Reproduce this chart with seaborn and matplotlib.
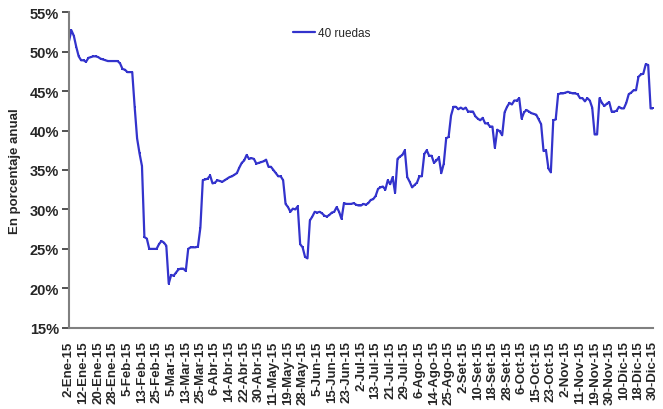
import numpy as np
import pandas as pd
import matplotlib
matplotlib.use("Agg")
import matplotlib.pyplot as plt
import seaborn as sns

# Tick labels (every 6th business day)
tick_labels = ["2-Ene-15", "12-Ene-15", "20-Ene-15", "28-Ene-15", "5-Feb-15", "13-Feb-15",
               "25-Feb-15", "5-Mar-15", "13-Mar-15", "25-Mar-15", "6-Abr-15", "14-Abr-15",
               "22-Abr-15", "30-Abr-15", "11-May-15", "19-May-15", "28-May-15", "5-Jun-15",
               "15-Jun-15", "23-Jun-15", "2-Jul-15", "13-Jul-15", "21-Jul-15", "29-Jul-15",
               "6-Ago-15", "14-Ago-15", "25-Ago-15", "2-Set-15", "10-Set-15", "18-Set-15",
               "28-Set-15", "6-Oct-15", "15-Oct-15", "23-Oct-15", "2-Nov-15", "11-Nov-15",
               "19-Nov-15", "30-Nov-15", "10-Dic-15", "18-Dic-15", "30-Dic-15"]

# Daily values, 40 ruedas (% annual)
tasa_40_ruedas = [
    51.3, 52.7, 52.0, 50.6, 49.4, 48.9, 48.9, 48.7, 49.2, 49.3,
    49.4, 49.4, 49.3, 49.1, 49.0, 48.9, 48.8, 48.8, 48.8, 48.8,
    48.8, 48.5, 47.8, 47.7, 47.4, 47.4, 47.4, 43.0, 39.0, 37.1,
    35.5, 26.5, 26.3, 25.0, 25.0, 25.0, 25.0, 25.6, 26.0, 25.8,
    25.4, 20.6, 21.7, 21.6, 22.0, 22.4, 22.5, 22.5, 22.2, 25.0,
    25.2, 25.2, 25.2, 25.3, 27.7, 33.7, 33.8, 33.9, 34.3, 33.3,
    33.4, 33.7, 33.6, 33.5, 33.7, 33.9, 34.1, 34.2, 34.4, 34.6,
    35.3, 35.9, 36.2, 36.9, 36.4, 36.5, 36.4, 35.8, 35.9, 36.0,
    36.1, 36.3, 35.4, 35.4, 35.0, 34.6, 34.2, 34.2, 33.7, 30.7,
    30.3, 29.7, 30.1, 30.0, 30.4, 25.6, 25.2, 24.0, 23.8, 28.6,
    29.1, 29.7, 29.6, 29.7, 29.5, 29.2, 29.1, 29.3, 29.6, 29.7,
    30.3, 29.7, 28.8, 30.8, 30.7, 30.7, 30.7, 30.8, 30.6, 30.5,
    30.5, 30.7, 30.6, 30.8, 31.2, 31.3, 31.7, 32.6, 32.8, 32.9,
    32.5, 33.7, 33.2, 34.1, 32.1, 36.4, 36.7, 36.9, 37.5, 34.1,
    33.5, 32.8, 33.1, 33.4, 34.2, 34.2, 37.0, 37.5, 36.8, 36.8,
    35.9, 36.2, 36.6, 34.6, 35.8, 39.0, 39.2, 41.9, 43.0, 43.0,
    42.7, 42.9, 42.7, 42.9, 42.4, 42.4, 42.4, 41.8, 41.5, 41.3,
    41.6, 40.9, 40.9, 40.5, 40.5, 37.8, 40.1, 39.9, 39.4, 42.3,
    43.0, 43.5, 43.3, 43.8, 43.8, 44.1, 41.5, 42.3, 42.6, 42.4,
    42.2, 42.1, 42.0, 41.4, 40.8, 37.4, 37.5, 35.2, 34.7, 41.3,
    41.4, 44.6, 44.7, 44.7, 44.8, 44.9, 44.8, 44.7, 44.7, 44.6,
    44.1, 44.1, 43.7, 44.1, 43.8, 42.9, 39.5, 39.5, 44.1, 43.5,
    43.1, 43.4, 43.6, 42.4, 42.4, 42.5, 43.0, 42.8, 42.8, 43.5,
    44.6, 44.8, 45.1, 45.1, 46.8, 47.1, 47.2, 48.4, 48.3, 42.8,
    42.8,
]

y_ticks = [15, 20, 25, 30, 35, 40, 45, 50, 55]

sns.set_theme(style="ticks")
plt.rcParams['font.family'] = ['Liberation Sans', 'DejaVu Sans']

df = pd.DataFrame({"rueda": np.arange(len(tasa_40_ruedas)), "tasa": tasa_40_ruedas})

fig = plt.figure(figsize=(6.63, 4.10), dpi=100)
ax = fig.add_axes([0.104, 0.198, 0.881, 0.770])

sns.lineplot(data=df, x="rueda", y="tasa", ax=ax, color="#3333CC", linewidth=1.6,
             marker="s", markersize=1.6, markeredgewidth=0, label="40 ruedas")

ax.set_xlim(0, len(tasa_40_ruedas) - 1)
ax.set_ylim(15, 55)
ax.set_yticks(y_ticks)
ax.set_yticklabels([f"{v}%" for v in y_ticks], fontsize=10.5, fontweight="bold")
ax.set_xticks(np.arange(0, len(tasa_40_ruedas), 6))
ax.set_xticklabels(tick_labels, rotation=90, fontsize=9.5, fontweight="bold")
ax.tick_params(axis="y", which="major", direction="out", length=5, width=1.2,
               color="#333333", pad=2, left=True)
ax.tick_params(axis="x", length=0, pad=9)

ax.set_xlabel("")
ax.set_ylabel("En porcentaje anual", fontsize=9.5, fontweight="bold", labelpad=6)

for side in ["top", "right"]:
    ax.spines[side].set_visible(False)
for side in ["left", "bottom"]:
    ax.spines[side].set_color("#808080")
    ax.spines[side].set_linewidth(1.5)

leg = ax.legend(loc="upper left", bbox_to_anchor=(0.365, 0.985), frameon=False,
                fontsize=8.5, handlelength=1.9, handletextpad=0.2)

fig.savefig("out.png", dpi=100)
